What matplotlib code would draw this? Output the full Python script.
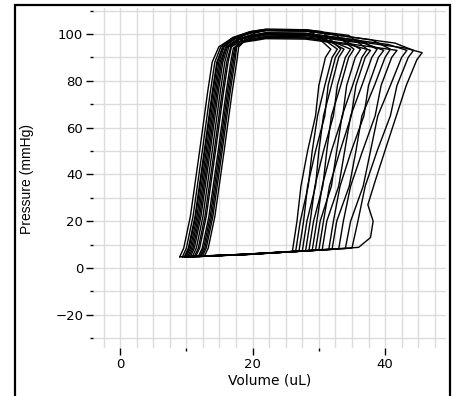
import numpy as np
import matplotlib
matplotlib.use("Agg")
import matplotlib.pyplot as plt
from matplotlib.patches import Rectangle

# pressure-volume loops, one list per beat (volume in uL, pressure in mmHg)
loop_volumes = [
    [9.0, 19.0, 26.0, 26.7, 27.3, 28.3, 29.5, 30.0, 31.0, 31.8, 29.0, 28.0, 22.0, 19.5, 16.8, 14.9, 13.9, 13.2, 12.0, 10.6, 9.6, 9.0],
    [10.4, 19.0, 26.5, 27.2, 28.4, 29.0, 29.8, 30.9, 32.0, 32.8, 30.0, 28.0, 22.0, 19.9, 17.6, 16.0, 15.3, 14.6, 13.4, 12.0, 11.0, 10.4],
    [9.7, 19.0, 27.0, 27.7, 28.3, 29.5, 30.9, 31.4, 32.5, 33.3, 30.5, 28.0, 22.0, 19.7, 17.2, 15.5, 14.6, 13.9, 12.7, 11.3, 10.3, 9.7],
    [11.4, 19.0, 27.5, 28.2, 29.5, 30.0, 30.7, 31.9, 33.0, 33.8, 31.0, 28.0, 22.0, 20.2, 18.2, 16.8, 16.3, 15.6, 14.4, 13.0, 12.0, 11.4],
    [10.2, 19.0, 28.0, 28.7, 29.4, 30.7, 32.2, 32.8, 34.0, 34.8, 32.0, 28.0, 22.0, 19.9, 17.5, 15.9, 15.1, 14.4, 13.2, 11.8, 10.8, 10.2],
    [12.2, 19.0, 28.5, 29.2, 30.6, 31.2, 31.9, 33.3, 34.5, 35.3, 32.5, 28.0, 22.0, 20.5, 18.7, 17.5, 17.1, 16.4, 15.2, 13.8, 12.8, 12.2],
    [10.9, 19.0, 29.0, 29.7, 30.5, 31.9, 33.6, 34.2, 35.5, 36.3, 33.5, 28.0, 22.0, 20.1, 17.9, 16.4, 15.8, 15.1, 13.9, 12.5, 11.5, 10.9],
    [9.4, 19.0, 29.5, 30.2, 31.9, 32.7, 33.5, 35.1, 36.5, 37.3, 34.5, 28.0, 22.0, 19.6, 17.0, 15.2, 14.3, 13.6, 12.4, 11.0, 10.0, 9.4],
    [11.8, 19.0, 30.0, 30.7, 31.6, 33.2, 34.9, 35.6, 37.0, 37.8, 35.0, 28.0, 22.0, 20.3, 18.5, 17.1, 16.7, 16.0, 14.8, 13.4, 12.4, 11.8],
    [10.6, 19.0, 30.5, 31.2, 33.0, 33.9, 34.8, 36.5, 38.0, 38.8, 36.0, 28.0, 22.0, 20.0, 17.8, 16.2, 15.5, 14.8, 13.6, 12.2, 11.2, 10.6],
    [12.4, 19.0, 31.5, 32.2, 33.2, 34.9, 36.8, 37.5, 39.0, 39.8, 37.0, 28.0, 22.0, 20.5, 18.8, 17.6, 17.3, 16.6, 15.4, 14.0, 13.0, 12.4],
    [10.0, 19.0, 32.0, 32.7, 34.6, 35.6, 36.5, 38.4, 40.0, 40.8, 38.0, 28.0, 22.0, 19.8, 17.4, 15.7, 14.9, 14.2, 13.0, 11.6, 10.6, 10.0],
    [12.0, 19.0, 33.0, 33.7, 34.8, 36.6, 38.5, 39.4, 41.0, 41.8, 39.0, 28.0, 22.0, 20.4, 18.6, 17.3, 16.9, 16.2, 15.0, 13.6, 12.6, 12.0],
    [11.2, 19.0, 34.0, 34.8, 36.7, 37.8, 38.9, 40.8, 42.5, 43.3, 40.5, 28.0, 22.0, 20.2, 18.1, 16.7, 16.1, 15.4, 14.2, 12.8, 11.8, 11.2],
    [9.8, 19.0, 35.0, 35.9, 37.0, 38.8, 40.8, 41.8, 43.5, 44.3, 41.5, 28.0, 22.0, 19.7, 17.3, 15.5, 14.7, 14.0, 12.8, 11.4, 10.4, 9.8],
    [12.7, 19.0, 36.0, 37.8, 38.2, 37.4, 38.6, 40.2, 43.2, 44.8, 45.6, 43.0, 28.0, 22.0, 20.6, 19.0, 17.9, 17.6, 16.9, 15.7, 14.3, 13.3, 12.7],
]
loop_pressures = [
    [4.8, 5.8, 7.0, 20, 35, 50, 65, 78, 90, 93.5, 100.6, 101.3, 101.5, 100.5, 98, 94.5, 88, 75, 50, 22, 8.5, 4.8],
    [4.8, 5.8, 7.1, 20, 35, 50, 65, 78, 90, 93.5, 99.2, 99.8, 100.0, 99.0, 97.5, 94.5, 88, 75, 50, 22, 8.5, 4.8],
    [4.8, 5.9, 7.2, 20, 35, 50, 65, 78, 90, 93.5, 101.0, 101.8, 102.0, 101.0, 98.5, 94.5, 88, 75, 50, 22, 8.5, 4.8],
    [4.9, 5.7, 7.2, 20, 35, 50, 65, 78, 90, 93.5, 97.8, 98.8, 99.0, 98.0, 97.0, 94.5, 88, 75, 50, 22, 8.5, 4.9],
    [4.8, 5.8, 7.3, 20, 35, 50, 65, 78, 90, 93.5, 96.9, 98.3, 98.5, 97.5, 96.5, 94, 88, 75, 50, 22, 8.5, 4.8],
    [5.0, 5.9, 7.4, 20, 35, 50, 65, 78, 90, 93.5, 99.7, 101.3, 101.5, 100.5, 98.5, 95, 88, 75, 50, 22, 8.5, 5.0],
    [4.8, 5.8, 7.5, 20, 35, 50, 65, 78, 90, 93.5, 97.8, 99.8, 100.0, 99.0, 97.5, 94.5, 88, 75, 50, 22, 8.5, 4.8],
    [4.7, 5.8, 7.6, 20, 35, 50, 65, 78, 90, 93.5, 99.4, 101.8, 102.0, 101.0, 98.5, 94.5, 88, 75, 50, 22, 8.5, 4.7],
    [4.9, 5.7, 7.6, 20, 35, 50, 65, 78, 90, 93, 95.2, 97.8, 98.0, 97.2, 96.5, 94, 88, 75, 50, 22, 8.5, 4.9],
    [4.8, 5.8, 7.7, 20, 35, 50, 65, 78, 90, 93.5, 97.3, 100.3, 100.5, 99.5, 98, 94.5, 88, 75, 50, 22, 8.5, 4.8],
    [5.0, 5.9, 7.9, 20, 35, 50, 65, 78, 90, 93, 95.9, 99.3, 99.5, 98.7, 97.5, 94.5, 88, 75, 50, 22, 8.5, 5.0],
    [4.8, 5.8, 8.0, 20, 35, 50, 65, 78, 90, 93.5, 97.5, 101.3, 101.5, 100.5, 98, 94.5, 88, 75, 50, 22, 8.5, 4.8],
    [4.9, 5.8, 8.1, 20, 35, 50, 65, 78, 90, 93, 94.1, 98.3, 98.5, 97.7, 96.5, 94, 88, 75, 50, 22, 8.5, 4.9],
    [4.8, 5.8, 8.3, 20, 35, 50, 65, 78, 90, 93, 95.5, 100.3, 100.5, 99.5, 98, 94.5, 88, 75, 50, 22, 8.5, 4.8],
    [4.7, 5.8, 8.5, 20, 35, 50, 65, 78, 90, 93, 96.1, 101.3, 101.5, 100.5, 98, 94.5, 88, 75, 50, 22, 8.5, 4.7],
    [5.0, 5.9, 8.8, 13, 20, 27, 38, 52, 78, 89, 92, 94.0, 99.8, 100.0, 99.2, 97.5, 94.5, 88, 75, 50, 22, 8.5, 5.0],
]

x_major = [0, 20, 40]
x_minor = [10, 30]
y_major = [-20, 0, 20, 40, 60, 80, 100]
y_minor = [-30, -10, 10, 30, 50, 70, 90, 110]

fig = plt.figure(figsize=(4.56, 3.96), dpi=100)
ax = fig.add_axes([93 / 456, 48 / 396, 353 / 456, 340 / 396])

# light grid: every 2.5 uL and every 10 mmHg
for v in np.arange(-2.5, 48, 2.5):
    ax.axvline(v, color="#dcdcdc", lw=1.0, zorder=0)
for p in range(-30, 111, 10):
    ax.axhline(p, color="#dcdcdc", lw=1.0, zorder=0)

for vols, pres in zip(loop_volumes, loop_pressures):
    ax.plot(vols, pres, color="black", lw=1.0, zorder=2)

ax.set_xlim(-4.1, 49.2)
ax.set_ylim(-34.2, 111.1)
ax.set_xticks(x_major)
ax.set_xticks(x_minor, minor=True)
ax.set_yticks(y_major)
ax.set_yticks(y_minor, minor=True)
ax.tick_params(which="major", direction="out", length=5, width=1.0, colors="black",
               labelsize=9.5, pad=2)
ax.tick_params(which="minor", direction="out", length=2, width=1.0, colors="black")
for s in ax.spines.values():
    s.set_visible(False)

fig.text(27 / 456, 1 - 179 / 396, "Pressure (mmHg)", rotation=90, ha="center",
         va="center", fontsize=10, family="Liberation Sans")
fig.text(270 / 456, 1 - 380 / 396, "Volume (uL)", ha="center", va="center", fontsize=10)

# outer frame (open at the bottom edge)
fig.add_artist(Rectangle((15 / 456, -0.1), 435 / 456, 391 / 396 + 0.1,
                         transform=fig.transFigure, fill=False, lw=1.6, ec="black"))

fig.savefig("out.png", dpi=100)
